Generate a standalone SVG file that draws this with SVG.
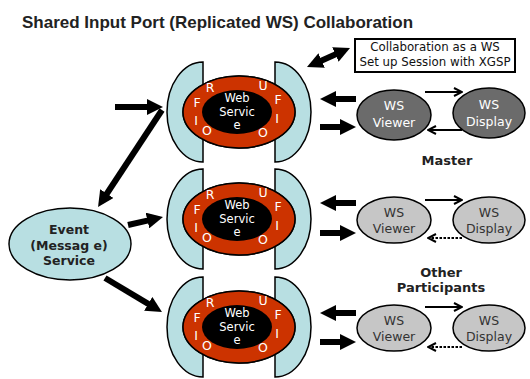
<svg xmlns="http://www.w3.org/2000/svg" width="530" height="379" viewBox="0 0 530 379">
<style>
.title{font-family:"Liberation Sans",Arial,sans-serif;font-weight:bold;font-size:17px;fill:#222}
.box{fill:#fff;stroke:#000;stroke-width:2}
.boxt{font-family:"DejaVu Sans",Verdana,sans-serif;font-size:11.8px;fill:#111;text-anchor:middle}
.brk{fill:#b8dfe2;stroke:#000;stroke-width:1.5}
.red{fill:#cc3300;stroke:#000;stroke-width:1.5}
.band{fill:#858585;stroke:#000;stroke-width:1.5}
.core{fill:#000}
.lt{font-family:"DejaVu Sans",Verdana,sans-serif;font-size:12.5px;fill:#fff;text-anchor:middle}
.ws{font-family:"DejaVu Sans",Verdana,sans-serif;font-size:11.5px;fill:#fff;text-anchor:middle}
.mst{fill:#6b6b6b;stroke:#000;stroke-width:1.5}
.oth{fill:#c6c6c6;stroke:#000;stroke-width:1.5}
.vt{font-family:"DejaVu Sans",Verdana,sans-serif;font-size:12.5px;text-anchor:middle}
.lbl{font-family:"DejaVu Sans",Verdana,sans-serif;font-weight:bold;font-size:13px;fill:#222;text-anchor:middle}
.ev{fill:#b8dfe2;stroke:#000;stroke-width:1.5}
.evt{font-family:"DejaVu Sans",Verdana,sans-serif;font-weight:bold;font-size:12.5px;fill:#222;text-anchor:middle}
.thick{stroke:#000;stroke-width:6;fill:none;marker-end:url(#big)}
.thin{stroke:#000;stroke-width:2;fill:none;marker-end:url(#open)}
.dot{stroke-dasharray:2.5 1.5}
</style>
<defs>
<marker id="big" viewBox="0 0 16 16" refX="1" refY="8" markerWidth="16" markerHeight="16" markerUnits="userSpaceOnUse" orient="auto-start-reverse">
<path d="M0,0 L16,8 L0,16 Z" fill="#000"/>
</marker>
<marker id="open" viewBox="0 0 10 10" refX="9" refY="5" markerWidth="10" markerHeight="10" markerUnits="userSpaceOnUse" orient="auto">
<path d="M1,1 L9,5 L1,9" fill="none" stroke="#000" stroke-width="2"/>
</marker>
<clipPath id="ring" clipPathUnits="userSpaceOnUse"><ellipse cx="0" cy="0" rx="56" ry="36"/></clipPath>
</defs>

<text class="title" x="22" y="28">Shared Input Port (Replicated WS) Collaboration</text>

<g id="collab-box">
<rect class="box" x="355" y="39" width="160" height="33"/>
<text class="boxt" x="435" y="51">Collaboration as a WS</text>
<text class="boxt" x="435" y="66">Set up Session with XGSP</text>
</g>

<g id="unit1" transform="translate(239,112)">
<path class="brk" d="M-36,-50 A36,50 0 0 0 -36,50 Z"/>
<path class="brk" d="M36,-50 A36,50 0 0 1 36,50 Z"/>
<ellipse class="red" cx="0" cy="0" rx="56" ry="36"/>
<rect class="band" x="-17" y="-40" width="30" height="80" clip-path="url(#ring)"/>
<ellipse class="red" cx="0" cy="0" rx="56" ry="36" fill="none"/>
<ellipse class="core" cx="-2" cy="0" rx="35" ry="22"/>
<text class="lt" x="-29" y="-20">R</text><text class="lt" x="-42" y="-5">F</text><text class="lt" x="-43" y="13">I</text><text class="lt" x="-32" y="23">O</text>
<text class="lt" x="24" y="-22">U</text><text class="lt" x="39" y="-8">F</text><text class="lt" x="38" y="11">I</text><text class="lt" x="24" y="25">O</text>
<text class="ws" x="-2" y="-10">Web</text><text class="ws" x="-2" y="4">Servic</text><text class="ws" x="-2" y="17">e</text>
</g>

<g id="unit2" transform="translate(239,219)">
<path class="brk" d="M-36,-50 A36,50 0 0 0 -36,50 Z"/>
<path class="brk" d="M36,-50 A36,50 0 0 1 36,50 Z"/>
<ellipse class="red" cx="0" cy="0" rx="56" ry="36"/>
<rect class="band" x="-17" y="-40" width="30" height="80" clip-path="url(#ring)"/>
<ellipse class="red" cx="0" cy="0" rx="56" ry="36" fill="none"/>
<ellipse class="core" cx="-2" cy="0" rx="35" ry="22"/>
<text class="lt" x="-29" y="-20">R</text><text class="lt" x="-42" y="-5">F</text><text class="lt" x="-43" y="13">I</text><text class="lt" x="-32" y="23">O</text>
<text class="lt" x="24" y="-22">U</text><text class="lt" x="39" y="-8">F</text><text class="lt" x="38" y="11">I</text><text class="lt" x="24" y="25">O</text>
<text class="ws" x="-2" y="-10">Web</text><text class="ws" x="-2" y="4">Servic</text><text class="ws" x="-2" y="17">e</text>
</g>

<g id="unit3" transform="translate(239,327)">
<path class="brk" d="M-36,-50 A36,50 0 0 0 -36,50 Z"/>
<path class="brk" d="M36,-50 A36,50 0 0 1 36,50 Z"/>
<ellipse class="red" cx="0" cy="0" rx="56" ry="36"/>
<rect class="band" x="-17" y="-40" width="30" height="80" clip-path="url(#ring)"/>
<ellipse class="red" cx="0" cy="0" rx="56" ry="36" fill="none"/>
<ellipse class="core" cx="-2" cy="0" rx="35" ry="22"/>
<text class="lt" x="-29" y="-20">R</text><text class="lt" x="-42" y="-5">F</text><text class="lt" x="-43" y="13">I</text><text class="lt" x="-32" y="23">O</text>
<text class="lt" x="24" y="-22">U</text><text class="lt" x="39" y="-8">F</text><text class="lt" x="38" y="11">I</text><text class="lt" x="24" y="25">O</text>
<text class="ws" x="-2" y="-10">Web</text><text class="ws" x="-2" y="4">Servic</text><text class="ws" x="-2" y="17">e</text>
</g>

<g id="event">
<ellipse class="ev" cx="70" cy="244" rx="61" ry="36"/>
<text class="evt" x="69" y="234">Event</text>
<text class="evt" x="69" y="250">(Messag e)</text>
<text class="evt" x="69" y="265">Service</text>
</g>

<g id="viewer1"><ellipse class="mst" cx="394" cy="115" rx="37" ry="25"/>
<text class="vt" x="394" y="110" fill="#fff">WS</text><text class="vt" x="394" y="127" fill="#fff">Viewer</text></g>
<g id="display1"><ellipse class="mst" cx="489" cy="113" rx="36" ry="25"/>
<text class="vt" x="489" y="109" fill="#fff">WS</text><text class="vt" x="489" y="126" fill="#fff">Display</text></g>

<g id="viewer2"><ellipse class="oth" cx="394" cy="220" rx="37" ry="23"/>
<text class="vt" x="394" y="217" fill="#333">WS</text><text class="vt" x="394" y="233" fill="#333">Viewer</text></g>
<g id="display2"><ellipse class="oth" cx="489" cy="220" rx="36" ry="23"/>
<text class="vt" x="489" y="217" fill="#333">WS</text><text class="vt" x="489" y="233" fill="#333">Display</text></g>

<g id="viewer3"><ellipse class="oth" cx="394" cy="328" rx="37" ry="23"/>
<text class="vt" x="394" y="325" fill="#333">WS</text><text class="vt" x="394" y="341" fill="#333">Viewer</text></g>
<g id="display3"><ellipse class="oth" cx="489" cy="328" rx="36" ry="23"/>
<text class="vt" x="489" y="325" fill="#333">WS</text><text class="vt" x="489" y="341" fill="#333">Display</text></g>

<text class="lbl" x="447" y="165">Master</text>
<text class="lbl" x="441" y="277">Other</text>
<text class="lbl" x="441" y="292">Participants</text>

<g id="connectors">
<line class="thick" x1="115" y1="107" x2="148" y2="107"/>
<line class="thick" x1="162" y1="110" x2="106.3" y2="194.5"/>
<line class="thick" x1="128" y1="225" x2="148.4" y2="220.3"/>
<line class="thick" x1="105" y1="278" x2="149.1" y2="304.3"/>
<line class="thick" x1="320.7" y1="60.9" x2="336.3" y2="54.1" style="marker-start:url(#big)"/>
<line class="thick" x1="356" y1="99" x2="335" y2="99"/>
<line class="thick" x1="320" y1="127" x2="341" y2="127"/>
<line class="thick" x1="356" y1="203" x2="335" y2="203"/>
<line class="thick" x1="320" y1="233" x2="341" y2="233"/>
<line class="thick" x1="356" y1="313" x2="335" y2="313"/>
<line class="thick" x1="320" y1="342" x2="341" y2="342"/>
<line class="thin" x1="425" y1="92" x2="462" y2="92"/>
<line class="thin" x1="462" y1="130" x2="428" y2="130"/>
<line class="thin" x1="425" y1="200" x2="462" y2="200"/>
<line class="thin dot" x1="462" y1="238" x2="428" y2="238"/>
<line class="thin" x1="425" y1="307" x2="462" y2="307"/>
<line class="thin dot" x1="462" y1="347" x2="428" y2="347"/>
</g>
</svg>
